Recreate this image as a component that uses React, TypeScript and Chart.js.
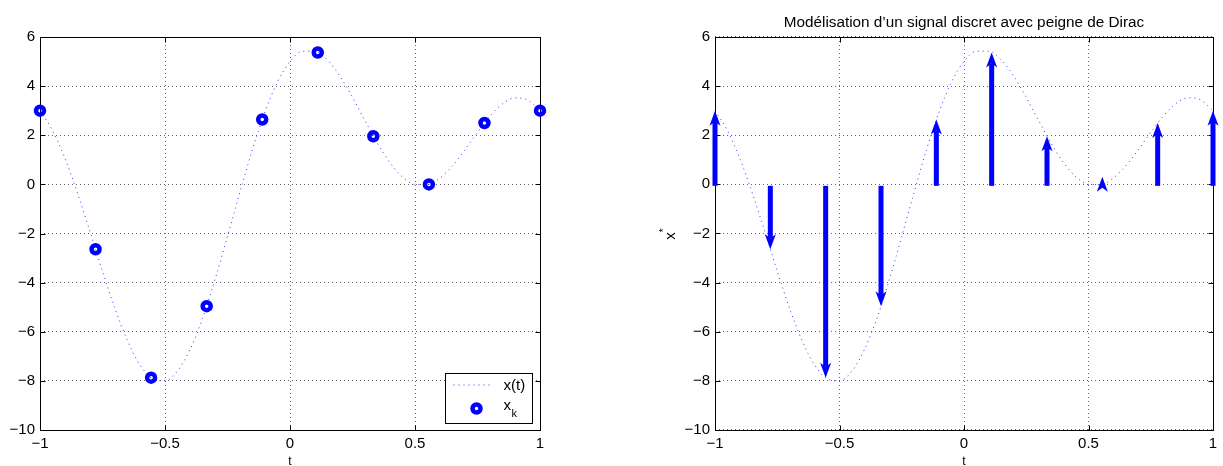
import React, { useEffect, useRef } from 'react';
import { Chart, registerables } from 'chart.js';

Chart.register(...registerables);

// ---------- data ----------
const curveT = [-1, -0.95, -0.9, -0.85, -0.8, -0.75, -0.7, -0.65, -0.6, -0.55, -0.5, -0.45, -0.4, -0.35, -0.3, -0.25, -0.2, -0.15, -0.1, -0.05, 0, 0.05, 0.1, 0.15, 0.2, 0.25, 0.3, 0.35, 0.4, 0.45, 0.5, 0.55, 0.6, 0.65, 0.7, 0.75, 0.8, 0.85, 0.9, 0.95, 1];
const curveX = [3, 2.19, 1.05, -0.36, -1.92, -3.54, -5.06, -6.37, -7.35, -7.91, -8, -7.6, -6.73, -5.46, -3.88, -2.12, -0.31, 1.43, 2.95, 4.17, 5, 5.42, 5.42, 5.06, 4.4, 3.54, 2.59, 1.67, 0.88, 0.3, 0, -0.01, 0.26, 0.76, 1.41, 2.12, 2.78, 3.28, 3.52, 3.44, 3];

const sampleT = [-1, -0.7778, -0.5556, -0.3333, -0.1111, 0.1111, 0.3333, 0.5556, 0.7778, 1];
const sampleX = [3, -2.64, -7.87, -4.96, 2.64, 5.37, 1.96, 0, 2.5, 3];

const xTickValues = [-1, -0.5, 0, 0.5, 1];
const xTickLabels = ['\u22121', '\u22120.5', '0', '0.5', '1'];
const yTickValues = [-10, -8, -6, -4, -2, 0, 2, 4, 6];
const yTickLabels = ['\u221210', '\u22128', '\u22126', '\u22124', '\u22122', '0', '2', '4', '6'];

const titleText = 'Modélisation d’un signal discret avec peigne de Dirac';
const xAxisLabel = 't';
const yAxisLabelRight = 'x';
const yAxisLabelRightSup = '*';
const curveLabel = 'x(t)';
const sampleLabel = 'x';
const sampleLabelSub = 'k';

// ---------- styles ----------
const FONT = "'Liberation Sans', Arial, Helvetica, sans-serif";
const BLUE = '#0000ff';
const CURVE = 'rgba(0,0,255,0.8)';
const GRID = 'rgba(0,0,0,0.6)';

const boxPlugin = {
  id: 'matlabBox',
  beforeDatasetsDraw(chart: any) {
    const { ctx, chartArea: a, scales } = chart;
    const L = Math.round(a.left) + 0.5;
    const R = Math.round(a.right) + 0.5;
    const T = Math.round(a.top) + 0.5;
    const B = Math.round(a.bottom) + 0.5;
    ctx.save();
    ctx.strokeStyle = '#000';
    ctx.lineWidth = 1;
    ctx.setLineDash([]);
    ctx.strokeRect(L, T, R - L, B - T);
    ctx.beginPath();
    xTickValues.forEach((v) => {
      const px = Math.round(scales.x.getPixelForValue(v)) + 0.5;
      ctx.moveTo(px, B); ctx.lineTo(px, B - 5);
      ctx.moveTo(px, T); ctx.lineTo(px, T + 5);
    });
    yTickValues.forEach((v) => {
      const py = Math.round(scales.y.getPixelForValue(v)) + 0.5;
      ctx.moveTo(L, py); ctx.lineTo(L + 5, py);
      ctx.moveTo(R, py); ctx.lineTo(R - 5, py);
    });
    ctx.stroke();
    ctx.restore();
  },
};

function drawArrow(ctx: CanvasRenderingContext2D, x: number, y0: number, yt: number) {
  const HL = 15, HW = 5.5, NOTCH = 4, SW = 2.5;
  ctx.fillStyle = BLUE;
  if (Math.abs(yt - y0) < 1) {
    const tip = y0 - 7.5;
    ctx.beginPath();
    ctx.moveTo(x, tip);
    ctx.lineTo(x + HW, tip + HL);
    ctx.lineTo(x, tip + HL - NOTCH);
    ctx.lineTo(x - HW, tip + HL);
    ctx.closePath();
    ctx.fill();
    return;
  }
  const dir = yt < y0 ? -1 : 1;
  const back = yt - dir * HL;
  const notch = yt - dir * (HL - NOTCH);
  const base = y0 + 1.5;
  ctx.fillRect(x - SW, Math.min(base, notch), 2 * SW, Math.abs(notch - base));
  ctx.beginPath();
  ctx.moveTo(x, yt);
  ctx.lineTo(x + HW, back);
  ctx.lineTo(x, notch);
  ctx.lineTo(x - HW, back);
  ctx.closePath();
  ctx.fill();
}

const arrowPlugin = {
  id: 'diracArrows',
  afterDatasetsDraw(chart: any) {
    const { ctx, scales } = chart;
    const ds = chart.data.datasets[1];
    const y0 = scales.y.getPixelForValue(0);
    ctx.save();
    ds.data.forEach((p: any) => {
      drawArrow(ctx, scales.x.getPixelForValue(p.x), y0, scales.y.getPixelForValue(p.y));
    });
    ctx.restore();
  },
};

const yLabelPlugin = {
  id: 'yLabelSup',
  afterDraw(chart: any) {
    const { ctx, chartArea: a } = chart;
    ctx.save();
    ctx.fillStyle = '#000';
    ctx.translate(a.left - 40.5, (a.top + a.bottom) / 2 + 2.5);
    ctx.rotate(-Math.PI / 2);
    ctx.textAlign = 'center';
    ctx.textBaseline = 'alphabetic';
    ctx.font = `15px ${FONT}`;
    ctx.fillText(yAxisLabelRight, 0, 0);
    ctx.font = `11px ${FONT}`;
    ctx.fillText(yAxisLabelRightSup, 5.5, -8);
    ctx.restore();
  },
};

const legendPlugin = {
  id: 'matlabLegend',
  afterDatasetsDraw(chart: any) {
    const { ctx, chartArea: a } = chart;
    const W = 87, H = 50;
    const left = Math.round(a.right) - 8 - W + 0.5;
    const top = Math.round(a.bottom) - 7 - H + 0.5;
    ctx.save();
    ctx.fillStyle = '#fff';
    ctx.fillRect(left, top, W, H);
    ctx.strokeStyle = '#000';
    ctx.lineWidth = 1;
    ctx.strokeRect(left, top, W, H);
    // curve sample
    ctx.strokeStyle = CURVE;
    ctx.setLineDash([1, 4]);
    ctx.beginPath();
    ctx.moveTo(left + 8, top + 11.5);
    ctx.lineTo(left + 46, top + 11.5);
    ctx.stroke();
    ctx.setLineDash([]);
    // marker sample
    ctx.strokeStyle = BLUE;
    ctx.lineWidth = 4.5;
    ctx.beginPath();
    ctx.arc(left + 31, top + 35, 4, 0, Math.PI * 2);
    ctx.stroke();
    // texts
    ctx.fillStyle = '#000';
    ctx.textAlign = 'left';
    ctx.textBaseline = 'middle';
    ctx.font = `15px ${FONT}`;
    ctx.fillText(curveLabel, left + 58, top + 12);
    ctx.fillText(sampleLabel, left + 58, top + 32);
    ctx.font = `11px ${FONT}`;
    ctx.fillText(sampleLabelSub, left + 66, top + 40);
    ctx.restore();
  },
};

function makeConfig(isRight: boolean): any {
  const curveData = curveT.map((t, i) => ({ x: t, y: curveX[i] }));
  const sampleData = sampleT.map((t, i) => ({ x: t, y: sampleX[i] }));
  const tickFont = { family: FONT, size: 15, weight: 'normal' as const };
  return {
    type: 'line',
    data: {
      datasets: [
        {
          label: curveLabel,
          data: curveData,
          borderColor: CURVE,
          borderWidth: 1,
          borderDash: [1, 4],
          pointRadius: 0,
          fill: false,
          cubicInterpolationMode: 'monotone',
        },
        {
          label: sampleLabel + '_' + sampleLabelSub,
          data: sampleData,
          showLine: false,
          borderColor: BLUE,
          backgroundColor: 'rgba(0,0,0,0)',
          pointRadius: isRight ? 0 : 4,
          pointBorderWidth: 4.5,
          pointBorderColor: BLUE,
          pointBackgroundColor: 'rgba(0,0,0,0)',
          clip: false,
        },
      ],
    },
    options: {
      responsive: false,
      animation: false,
      devicePixelRatio: 1,
      events: [],
      layout: {
        padding: isRight
          ? { left: 53, right: 10, top: 0, bottom: 0 }
          : { left: 0, right: 72, top: 37, bottom: 0 },
      },
      plugins: {
        legend: { display: false },
        tooltip: { enabled: false },
        title: isRight
          ? {
              display: true,
              text: titleText,
              fullSize: false,
              color: '#000',
              font: { family: FONT, size: 15.3, weight: 'normal', lineHeight: 1.2 },
              padding: { top: 14, bottom: 4.6 },
            }
          : { display: false },
      },
      scales: {
        x: {
          type: 'linear',
          min: -1,
          max: 1,
          afterBuildTicks: (s: any) => {
            s.ticks = xTickValues.map((value) => ({ value }));
          },
          afterFit: (s: any) => {
            s.height = 36;
          },
          ticks: {
            callback: (_v: any, i: number) => xTickLabels[i],
            color: '#000',
            font: tickFont,
            padding: 5,
            maxRotation: 0,
            autoSkip: false,
          },
          grid: { color: GRID, lineWidth: 1, drawTicks: false },
          border: { display: false, dash: [1, 3] },
          title: {
            display: true,
            text: xAxisLabel,
            color: '#000',
            font: { family: FONT, size: 12, lineHeight: 1.2 },
            padding: { top: 0, bottom: -3 },
          },
        },
        y: {
          type: 'linear',
          min: -10,
          max: 6,
          afterBuildTicks: (s: any) => {
            s.ticks = yTickValues.map((value) => ({ value }));
          },
          afterFit: (s: any) => {
            s.width = isRight ? 50 : 40;
          },
          ticks: {
            callback: (_v: any, i: number) => yTickLabels[i],
            color: '#000',
            font: tickFont,
            padding: 5,
            autoSkip: false,
          },
          grid: { color: GRID, lineWidth: 1, drawTicks: false },
          border: { display: false, dash: [1, 3] },
        },
      },
    },
    plugins: isRight ? [boxPlugin, arrowPlugin, yLabelPlugin] : [boxPlugin, legendPlugin],
  };
}

function ChartCanvas({ isRight, left, width }: { isRight: boolean; left: number; width: number }) {
  const ref = useRef<HTMLCanvasElement>(null);
  useEffect(() => {
    if (!ref.current) return;
    const chart = new Chart(ref.current, makeConfig(isRight));
    return () => chart.destroy();
  }, [isRight]);
  return (
    <canvas
      ref={ref}
      width={width}
      height={466}
      style={{ position: 'absolute', left, top: 0, width, height: 466 }}
    />
  );
}

export default function App() {
  Chart.defaults.font.family = FONT;
  return (
    <div style={{ position: 'absolute', left: 0, top: 0, width: 1223, height: 466, background: '#fff', overflow: 'hidden' }}>
      <ChartCanvas isRight={false} left={0} width={612} />
      <ChartCanvas isRight={true} left={612} width={611} />
    </div>
  );
}
